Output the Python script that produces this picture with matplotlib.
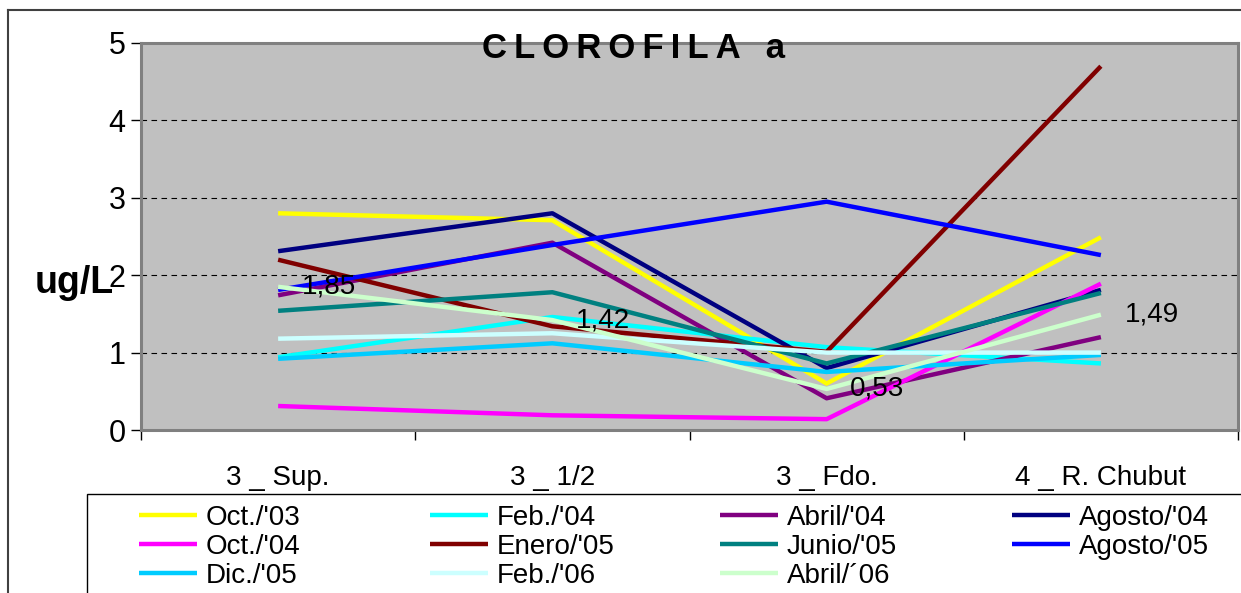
import matplotlib
matplotlib.use("Agg")
import matplotlib.pyplot as plt
from matplotlib.lines import Line2D
from matplotlib.patches import Rectangle

plt.rcParams['font.family'] = ['Liberation Sans', 'DejaVu Sans']

categories = ["3 _ Sup.", "3 _ 1/2", "3 _ Fdo.", "4 _ R. Chubut"]
series_names = ["Oct./'03", "Feb./'04", "Abril/'04", "Agosto/'04",
                "Oct./'04", "Enero/'05", "Junio/'05", "Agosto/'05",
                "Dic./'05", "Feb./'06", "Abril/´06"]
oct03 = [2.80, 2.71, 0.60, 2.49]
feb04 = [0.94, 1.46, 1.07, 0.86]
abr04 = [1.74, 2.42, 0.41, 1.20]
ago04 = [2.31, 2.80, 0.80, 1.81]
oct04 = [0.31, 0.19, 0.14, 1.89]
ene05 = [2.20, 1.34, 1.01, 4.70]
jun05 = [1.54, 1.78, 0.86, 1.77]
ago05 = [1.81, 2.39, 2.95, 2.26]
dic05 = [0.92, 1.12, 0.75, 0.97]
feb06 = [1.18, 1.25, 1.00, 1.00]
abr06 = [1.85, 1.42, 0.53, 1.49]
series_values = [oct03, feb04, abr04, ago04, oct04, ene05, jun05, ago05, dic05, feb06, abr06]
colors = ["#FFFF00", "#00FFFF", "#800080", "#000080",
          "#FF00FF", "#800000", "#008080", "#0000FF",
          "#00CCFF", "#CCFFFF", "#CCFFCC"]
yticks = [0, 1, 2, 3, 4, 5]

W, H = 1241, 593
fig = plt.figure(figsize=(W / 100, H / 100), dpi=100)
ax = fig.add_axes([141 / W, 1 - 430 / H, (1238 - 141) / W, (430 - 43) / H])
ax.set_facecolor("#C0C0C0")

x = list(range(len(categories)))
handles = []
for name, vals, c in zip(series_names, series_values, colors):
    h, = ax.plot(x, vals, color=c, lw=3.2, solid_capstyle='butt', label=name, zorder=3)
    handles.append(h)

# data labels for last series
for xi, v in zip(x, abr06):
    ax.annotate(f"{v:.2f}".replace('.', ','), (xi, v), xytext=(17, 0),
                textcoords='offset points', ha='left', va='center',
                fontsize=20, color='black', zorder=5)

ax.set_xlim(-0.5, len(categories) - 0.5)
ax.set_ylim(0, 5)
ax.set_yticks(yticks)
ax.set_yticklabels([str(t) for t in yticks], fontsize=22)
ax.tick_params(axis='y', direction='out', length=7, width=1, pad=4, colors='black')
ax.set_xticks([i - 0.5 for i in range(len(categories) + 1)])
ax.set_xticklabels([])
ax.tick_params(axis='x', which='major', direction='out', length=7, width=1, color='black')
ax.set_xticks(x, minor=True)
ax.set_xticklabels(categories, minor=True, fontsize=20)
ax.tick_params(axis='x', which='minor', length=0, pad=25)
for yv in yticks[1:-1]:
    ax.axhline(yv, color='black', lw=0.8, linestyle=(0, (5, 4)), zorder=1)
for s in ax.spines.values():
    s.set_color('#808080')
    s.set_linewidth(2.2)

ts = "\u2009"
title = ts.join("CLOROFILA") + "  " + ts + "a"
fig.text(634 / W, 1 - 58 / H, title, ha='center', va='baseline',
         fontsize=25, fontweight='bold', color='black')
fig.text(35 / W, 1 - 293 / H, "ug/L", ha='left', va='baseline',
         fontsize=27, fontweight='bold', color='black')

# chart border
fig.add_artist(Line2D([8 / W, 8 / W], [0, 1 - 10 / H], transform=fig.transFigure,
                      color='#404040', lw=1.5))
fig.add_artist(Line2D([8 / W, 1], [1 - 10 / H, 1 - 10 / H], transform=fig.transFigure,
                      color='#404040', lw=1.5))
# legend frame
fig.add_artist(Rectangle((87 / W, -0.2), 1.0, 0.2 + (593 - 494) / H,
                         transform=fig.transFigure, fill=False, edgecolor='black', lw=1.0))

col_x = [139, 430, 720, 1012]
ncol = 4
for ci in range(ncol):
    hs = handles[ci::ncol]
    fig.legend(handles=hs, labels=[h.get_label() for h in hs], loc='upper left',
               bbox_to_anchor=(col_x[ci] / W, 1 - 505 / H), frameon=False,
               fontsize=20, handlelength=2.1, handletextpad=0.3, labelspacing=0.1,
               borderpad=0, borderaxespad=0)

fig.savefig("out.png", dpi=100)
